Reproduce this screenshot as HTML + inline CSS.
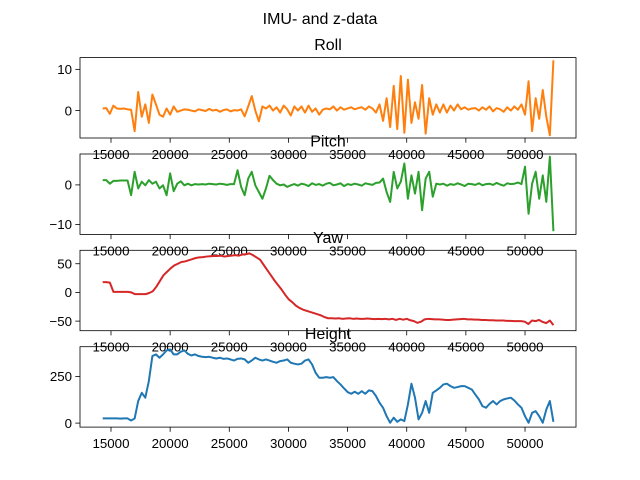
<!DOCTYPE html>
<html><head><meta charset="utf-8"><style>
body{margin:0;background:#fff}
svg{display:block;font-family:"Liberation Sans",sans-serif}
</style></head><body>
<svg id="fig" width="640" height="480" viewBox="0 0 640 480">
<text x="320" y="24" text-anchor="middle" font-size="16">IMU- and z-data</text>
</svg>
<script>
const xStart = 14300;
const xEnd = 52400;
const xTicks = [15000,20000,25000,30000,35000,40000,45000,50000];
const rollValues = [0.5,0.6,-0.8,1.2,0.5,0.4,0.5,0.3,0.2,-5,4.5,-1.5,1.5,-3,3.9,1.5,-1,-1.5,0.5,-1,1,-0.3,0,0.3,
0.2,0,-0.2,0.3,0.1,-0.1,0.4,0,0.2,-0.3,0.1,0.3,-0.2,0.1,0,0.3,-1.4,1.0,3.5,0,-2.6,1,0.5,1.2,0,0.8,-0.5,1.2,0.3,-1.2,1.0,0,1,-0.5,1.2,-0.3,0.5,-1,0.2,0.5,
0.3,1,0,0.8,0.2,0.5,0.8,0.3,0.6,0.8,0.2,1,0.5,-0.5,1.5,-2.5,3,-4,6,-4.5,8.4,-5.4,7.5,-3,2,-2,6.2,-5.6,3,-1,1.5,-0.5,1.5,-0.5,1.2,0,1.5,
0.3,0.8,0.2,0.5,0.6,0,0.8,0.2,1,-0.2,0.6,0.3,-0.3,0.8,0,1,0.2,1.5,-1,7.1,-5,3,-2,5,-1.5,-6,12.2];
const pitchValues = [1.2,1.2,0.3,1,1,1.1,1.1,1.1,-2.6,3.3,-0.9,0.8,-0.1,1.2,0.3,0.8,-0.9,-0.1,-2.6,2.9,-1.6,0.3,0.9,-0.1,0.3,-0.1,0.2,0.1,0.2,0.1,0.3,0.2,0.1,0.3,0.2,0,0.2,0.2,
3.7,-0.5,-2.6,1.6,3.3,-0.1,-1.8,-3.5,-0.9,2.3,1.2,0.3,-0.1,0.1,-0.5,-0.1,
0.2,-0.2,0.3,0.1,-0.3,0.4,0,0.2,-0.2,0.3,0.5,-0.1,0.1,0.4,-0.3,0.2,0,0.3,0.1,-0.2,0.4,0.2,0,0.5,0.6,
1.6,-1.8,-4.3,3.3,-0.9,0.8,5.4,-3.5,2.4,-2.2,3.3,-6.4,1.6,3.3,-3,0.3,
0.1,0.3,-0.2,0.2,0,0.4,0.1,-0.3,0.3,0.2,0,0.4,-0.1,0.2,0.3,0,0.5,0.1,-0.2,0.4,0.2,0.3,0.6,0.2,
4.6,-7.3,0.3,3.3,-3.5,2.4,-4.3,7.1,-11.7];
const yawValues = [18,18,17,1,1,1,1,1,0,-3,-3,-3,-3,-1,2,10,20,30,36,42,47,50,53,54,56,58,60,61,61.5,62.5,63,63.5,63.5,64,62.5,63.5,64,65,64,66,66.5,68,65,61,57,48,39,30,21,13,5,-4,-12,-17,-23,-27,-30,-32,-34,-36,-38,-40,-43,-45,
-45,-45.5,-45,-46,-45.5,-45,-46,-45.5,-46,-46,-45.5,-46,-46.5,-46,-46.5,-46,-47,-46,-48,-46,-47.5,-46,-48.5,-50,-53,-51,-47,-46,-46.5,-47,-47,-47.5,-48,-48,-47.5,-47,-46.5,-46,-47,-47,-47.5,-47.5,-48,-48,-48.5,-48.5,-49,-49,-49,-49.5,-49.5,-50,-50,-50,-51,-55,-49,-50,-48,-51.5,-53.5,-49,-57];
const heightValues = [25,25,25,25,25,24,25,25,14,25,118,162,136,225,359,368,350,368,389,394,368,368,382,389,371,362,368,359,355,353,355,350,346,350,344,346,341,335,344,346,341,323,335,350,341,335,341,335,328,323,332,335,341,323,318,314,318,335,341,314,269,243,243,246,243,246,225,207,186,166,157,168,157,171,157,175,171,145,109,82,37,2,29,7,20,11,100,211,136,20,55,118,55,162,175,189,207,211,198,189,193,198,198,189,180,153,127,91,82,103,118,100,118,127,132,136,121,100,82,37,2,55,64,37,2,73,118,7];

const svg = document.getElementById('fig');
const NS = 'http://www.w3.org/2000/svg';
const L = 80, R = 576, W = R - L, xMin = 12380, xMax = 54310;
const xScale = v => L + (v - xMin) / (xMax - xMin) * W;
function mk(tag, attrs, parent){const e=document.createElementNS(NS,tag);for(const k in attrs)e.setAttribute(k,attrs[k]);(parent||svg).appendChild(e);return e;}

const panels = [
 {name:'roll', title:'Roll', vals:rollValues, color:'#ff7f0e', top:57.6, yMin:-6.66, yMax:12.85, ticks:[0,10]},
 {name:'pitch', title:'Pitch', vals:pitchValues, color:'#2ca02c', top:154.0, yMin:-12.5, yMax:7.8, ticks:[-10,0]},
 {name:'yaw', title:'Yaw', vals:yawValues, color:'#d62728', top:250.3, yMin:-66.7, yMax:73.4, ticks:[-50,0,50]},
 {name:'height', title:'Height', vals:heightValues, color:'#1f77b4', top:346.7, yMin:-21.4, yMax:409, ticks:[0,250]}
];
const H = 80.4;
panels.forEach(p=>{
  const g = mk('g',{});
  
  
  const yScale = v => p.top + H - (v - p.yMin)/(p.yMax - p.yMin)*H;
  const n = p.vals.length;
  const step = (xEnd - xStart)/(n-1);
  const pts = p.vals.map((v,i)=> xScale(xStart + i*step).toFixed(2)+','+yScale(v).toFixed(2)).join(' ');
  const cp = mk('clipPath',{id:'c'+p.name},g);
  mk('rect',{x:L,y:p.top,width:W,height:H},cp);
  const line = mk('polyline',{points:pts,fill:'none',stroke:p.color,'stroke-width':2,'stroke-linejoin':'round','clip-path':'url(#c'+p.name+')'},g);
  
  
  const fr = mk('rect',{x:L,y:p.top,width:W,height:H,fill:'none',stroke:'#000','stroke-width':0.8},g);
  
  
  p.ticks.forEach(t=>{
    const y = yScale(t);
    mk('line',{x1:L-4.7,x2:L,y1:y,y2:y,stroke:'#000','stroke-width':0.8},g);
    const tl = mk('text',{x:L-8,y:y+4.7,'text-anchor':'end','font-size':13.3},g);
    tl.textContent = t<0 ? '\u2212'+Math.abs(t) : String(t);
    
    
  });
  const bottom = p.top + H;
  xTicks.forEach(t=>{
    const x = xScale(t);
    mk('line',{x1:x,x2:x,y1:bottom,y2:bottom+4.7,stroke:'#000','stroke-width':0.8},g);
    const tl = mk('text',{x:x,y:bottom+21,'text-anchor':'middle','font-size':13.3},g);
    tl.textContent = String(t);
    
    
  });
  const tt = mk('text',{x:L+W/2,y:p.top-7.5,'text-anchor':'middle','font-size':16},g);
  tt.textContent = p.title;
  
  
});
</script>
</body></html>
